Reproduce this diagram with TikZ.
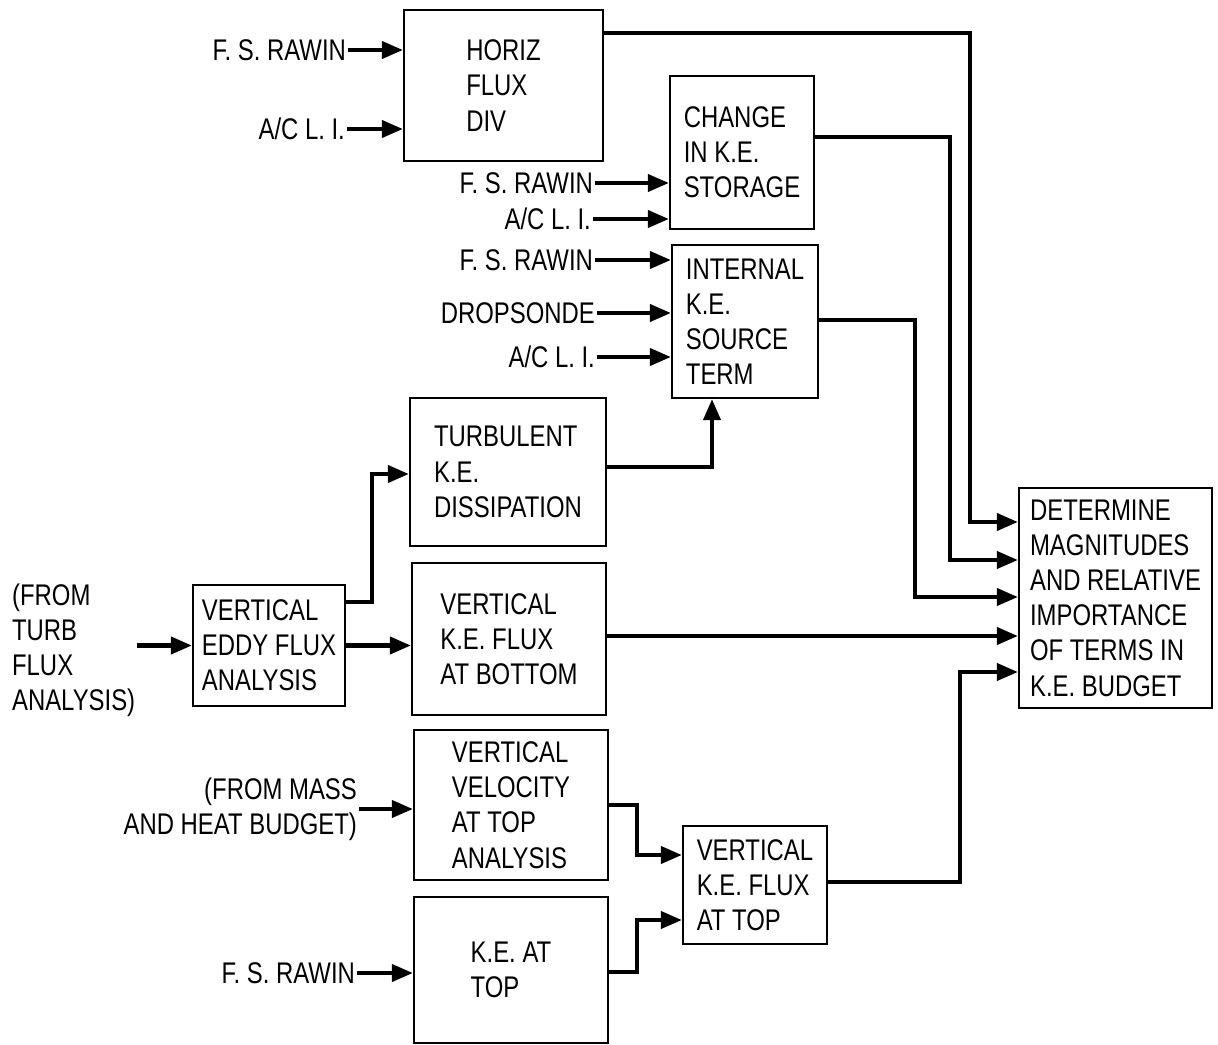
\documentclass[tikz,border=0pt]{standalone}
\usepackage{fontspec}
\setmainfont{Liberation Sans}[FakeStretch=0.8]
\usepackage{tikz}
\usetikzlibrary{calc,arrows.meta}
\tikzset{blk/.style={draw,line width=1.3pt,align=left,inner sep=2pt,font=\fontsize{17}{20}\selectfont},
  lbl/.style={inner sep=1pt,font=\fontsize{17}{20}\selectfont},
  arr/.style={line width=2.3pt,-{Triangle[length=0.42cm,width=0.34cm]}}}

\begin{document}
\begin{tikzpicture}
\useasboundingbox (0,0) rectangle (24.36,-20.90);
% boxes
\node[blk,minimum width=3.98cm,minimum height=3.02cm] (horiz) at (10.07,-1.71) {HORIZ\\FLUX\\DIV};
\node[blk,minimum width=2.88cm,minimum height=3.06cm] (change) at (14.84,-3.05) {CHANGE\\IN K.E.\\STORAGE};
\node[blk,minimum width=2.92cm,minimum height=3.06cm] (internal) at (14.90,-6.43) {INTERNAL\\K.E.\\SOURCE\\TERM};
\node[blk,minimum width=3.92cm,minimum height=2.96cm] (turb) at (10.16,-9.44) {TURBULENT\\K.E.\\DISSIPATION};
\node[blk,minimum width=3.04cm,minimum height=2.42cm] (eddy) at (5.38,-12.91) {VERTICAL\\EDDY FLUX\\ANALYSIS};
\node[blk,minimum width=3.88cm,minimum height=3.04cm] (vkeb) at (10.18,-12.78) {VERTICAL\\K.E. FLUX\\AT BOTTOM};
\node[blk,minimum width=3.88cm,minimum height=3.00cm] (vvel) at (10.22,-16.10) {VERTICAL\\VELOCITY\\AT TOP\\ANALYSIS};
\node[blk,minimum width=2.88cm,minimum height=2.36cm] (vket) at (15.10,-17.70) {VERTICAL\\K.E. FLUX\\AT TOP};
\node[blk,minimum width=3.88cm,minimum height=2.92cm] (ketop) at (10.22,-19.40) {K.E. AT\\TOP};
\node[blk,minimum width=3.86cm,minimum height=4.40cm] (budget) at (22.31,-11.96) {DETERMINE\\MAGNITUDES\\AND RELATIVE\\IMPORTANCE\\OF TERMS IN\\K.E. BUDGET};
% inputs
\node[lbl,anchor=east] (rawin1) at (6.96,-1.00) {F. S. RAWIN};
\node[lbl,anchor=east] (acli1) at (6.94,-2.58) {A/C L. I.};
\node[lbl,anchor=east] (rawin2) at (11.90,-3.66) {F. S. RAWIN};
\node[lbl,anchor=east] (acli2) at (11.86,-4.38) {A/C L. I.};
\node[lbl,anchor=east] (rawin3) at (11.90,-5.20) {F. S. RAWIN};
\node[lbl,anchor=east] (drop) at (11.94,-6.26) {DROPSONDE};
\node[lbl,anchor=east] (acli3) at (11.94,-7.14) {A/C L. I.};
\node[lbl,anchor=west,align=left] (fromturb) at (0.20,-13.00) {(FROM\\TURB\\FLUX\\ANALYSIS)};
\node[lbl,anchor=east,align=right] (frommass) at (7.18,-16.18) {(FROM MASS\\AND HEAT BUDGET)};
\node[lbl,anchor=east] (rawin4) at (7.14,-19.46) {F. S. RAWIN};
\foreach \a/\b in {rawin1/horiz,acli1/horiz,rawin2/change,acli2/change,rawin3/internal,drop/internal,acli3/internal,frommass/vvel,rawin4/ketop}
  \draw[arr] (\a.east) -- (\b.west |- \a.east);
\draw[arr] (fromturb.east |- eddy.west) -- (eddy.west);
\draw[arr] (eddy.east) -- (vkeb.west |- eddy.east);
\draw[arr] (eddy.east |- 0,-12.04) -- (7.44,-12.04) -- (7.44,-9.48) -- (turb.west |- 0,-9.48);
\draw[arr] (turb.east |- 0,-9.34) -- (14.24,-9.34) -- (internal.south -| 14.24,0);
\draw[arr] (vvel.east) -- (12.74,-16.10) -- (12.74,-17.10) -- (vket.west |- 0,-17.10);
\draw[arr] (ketop.east |- 0,-19.44) -- (12.74,-19.44) -- (12.74,-18.40) -- (vket.west |- 0,-18.40);
% to budget
\draw[arr] (horiz.east |- 0,-0.66) -- (19.40,-0.66) -- (19.40,-10.44) -- (budget.west |- 0,-10.44);
\draw[arr] (change.east |- 0,-2.74) -- (19.00,-2.74) -- (19.00,-11.20) -- (budget.west |- 0,-11.20);
\draw[arr] (internal.east |- 0,-6.40) -- (18.30,-6.40) -- (18.30,-11.94) -- (budget.west |- 0,-11.94);
\draw[arr] (vkeb.east |- 0,-12.72) -- (budget.west |- 0,-12.72);
\draw[arr] (vket.east |- 0,-17.64) -- (19.20,-17.64) -- (19.20,-13.44) -- (budget.west |- 0,-13.44);
\end{tikzpicture}
\end{document}
